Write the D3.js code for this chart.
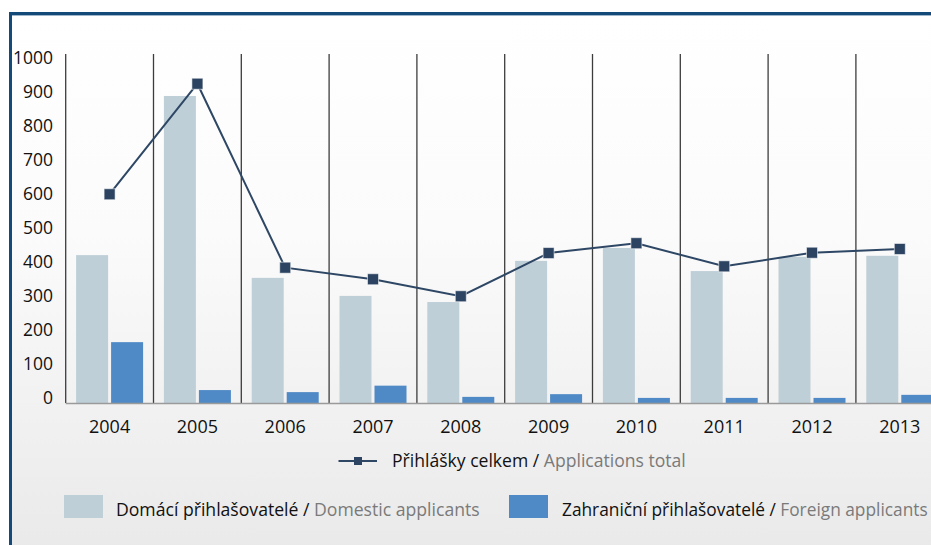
<!DOCTYPE html>
<html>
<head>
<meta charset="utf-8">
<script src="https://cdn.jsdelivr.net/npm/d3@7"></script>
<style>
  body { margin: 0; background: #fff; }
  svg { display: block; font-family: "Open Sans", "Noto Sans", sans-serif; }
</style>
</head>
<body>
<svg id="chart" width="931" height="545"></svg>
<script>
// Přihlášky: domácí a zahraniční přihlašovatelé + celkem (sloupce + čára)

const years = ['2004', '2005', '2006', '2007', '2008', '2009', '2010', '2011', '2012', '2013'];
const domestic = [435, 903, 368, 315, 297, 418, 456, 388, 430, 433];
const foreign = [179, 38, 32, 51, 18, 26, 15, 15, 15, 24];
const total = [614, 939, 398, 364, 314, 441, 470, 402, 442, 453];
const yTicks = [0, 100, 200, 300, 400, 500, 600, 700, 800, 900, 1000];

const colors = {
  domestic: '#bfcfd8',
  foreign: '#4f8ac6',
  line: '#2e4765',
  frame: '#134a7a',
};

const svg = d3.select('#chart');
const W = 931, H = 545;
const plotLeft = 65.7, plotBottom = 403, plotTop = 63;

const defs = svg.append('defs');
const grad = defs.append('linearGradient')
  .attr('id', 'bg')
  .attr('x1', 0).attr('y1', 0).attr('x2', 0).attr('y2', 1);
grad.append('stop').attr('offset', '0%').attr('stop-color', '#ffffff');
grad.append('stop').attr('offset', '40%').attr('stop-color', '#fbfbfb');
grad.append('stop').attr('offset', '100%').attr('stop-color', '#e9e9e9');

// rámeček
svg.append('rect')
  .attr('x', 10.5).attr('y', 13.5)
  .attr('width', W).attr('height', H)
  .attr('fill', 'url(#bg)')
  .attr('stroke', colors.frame)
  .attr('stroke-width', 3);
svg.append('line')
  .attr('x1', 12).attr('x2', W)
  .attr('y1', 15.5).attr('y2', 15.5)
  .attr('stroke', '#9fb6cb')
  .attr('stroke-width', 1);

const x = d3.scaleBand().domain(years).range([plotLeft, plotLeft + 87.8 * years.length]);
const xSub = d3.scaleBand()
  .domain(['domestic', 'foreign'])
  .range([10.4, 77.4])
  .paddingInner(3 / 35);
const y = d3.scaleLinear().domain([0, 1000]).range([plotBottom, plotTop]);

// svislé oddělovače
svg.append('g')
  .selectAll('line')
  .data(years)
  .join('line')
  .attr('x1', d => x(d)).attr('x2', d => x(d))
  .attr('y1', 54).attr('y2', plotBottom)
  .attr('stroke', '#3c3c3c')
  .attr('stroke-width', 1.3);

// sloupce
const groups = svg.append('g')
  .selectAll('g')
  .data(years.map((yr, i) => ({ yr, domestic: domestic[i], foreign: foreign[i] })))
  .join('g')
  .attr('transform', d => `translate(${x(d.yr)},0)`);

groups.selectAll('rect')
  .data(d => ['domestic', 'foreign'].map(k => ({ key: k, value: d[k] })))
  .join('rect')
  .attr('x', d => xSub(d.key))
  .attr('width', xSub.bandwidth())
  .attr('y', d => y(d.value))
  .attr('height', d => y(0) - y(d.value))
  .attr('fill', d => colors[d.key]);

// základní linie
svg.append('line')
  .attr('x1', plotLeft).attr('x2', W)
  .attr('y1', plotBottom + 0.5).attr('y2', plotBottom + 0.5)
  .attr('stroke', '#9a9a9a')
  .attr('stroke-width', 1.5);

// osa y – popisky
svg.append('g')
  .selectAll('text')
  .data(yTicks)
  .join('text')
  .attr('x', 53)
  .attr('y', d => y(d) + 1)
  .attr('text-anchor', 'end')
  .attr('font-size', 17.5)
  .attr('fill', '#111')
  .text(d => d);

// osa x – roky
svg.append('g')
  .selectAll('text')
  .data(years)
  .join('text')
  .attr('x', d => x(d) + x.bandwidth() / 2)
  .attr('y', 433)
  .attr('text-anchor', 'middle')
  .attr('font-size', 18)
  .attr('fill', '#111')
  .text(d => d);

// čára celkem
const cx = i => x(years[i]) + x.bandwidth() / 2;
svg.append('path')
  .datum(total)
  .attr('fill', 'none')
  .attr('stroke', colors.line)
  .attr('stroke-width', 2)
  .attr('d', d3.line().x((d, i) => cx(i)).y(d => y(d)));

svg.append('g')
  .selectAll('rect')
  .data(total)
  .join('rect')
  .attr('x', (d, i) => cx(i) - 5.5)
  .attr('y', d => y(d) - 5.5)
  .attr('width', 11).attr('height', 11)
  .attr('fill', '#2c4462')
  .attr('stroke', 'rgba(255,255,255,0.55)')
  .attr('stroke-width', 1);

// legenda
function legendText(x0, yBase, dark, light, width) {
  const t = svg.append('text')
    .attr('font-size', 17.5)
    .attr('x', 0).attr('y', 0);
  t.append('tspan').attr('fill', '#111').text(dark + ' / ');
  t.append('tspan').attr('fill', '#7a7a7a').text(light);
  const w = t.node().getComputedTextLength();
  t.attr('transform', `translate(${x0},${yBase}) scale(${width / w},1)`);
}

svg.append('line')
  .attr('x1', 338.5).attr('x2', 377)
  .attr('y1', 461).attr('y2', 461)
  .attr('stroke', colors.line)
  .attr('stroke-width', 2);
svg.append('rect')
  .attr('x', 354).attr('y', 457)
  .attr('width', 8).attr('height', 8)
  .attr('fill', '#2c4462');
legendText(392, 467, 'Přihlášky celkem', 'Applications total', 294);

svg.append('rect')
  .attr('x', 64).attr('y', 495)
  .attr('width', 39).attr('height', 23)
  .attr('fill', colors.domestic);
legendText(116, 516, 'Domácí přihlašovatelé', 'Domestic applicants', 364);

svg.append('rect')
  .attr('x', 509).attr('y', 495)
  .attr('width', 39).attr('height', 23)
  .attr('fill', colors.foreign);
legendText(562, 516, 'Zahraniční přihlašovatelé', 'Foreign applicants', 366);
</script>
</body>
</html>
